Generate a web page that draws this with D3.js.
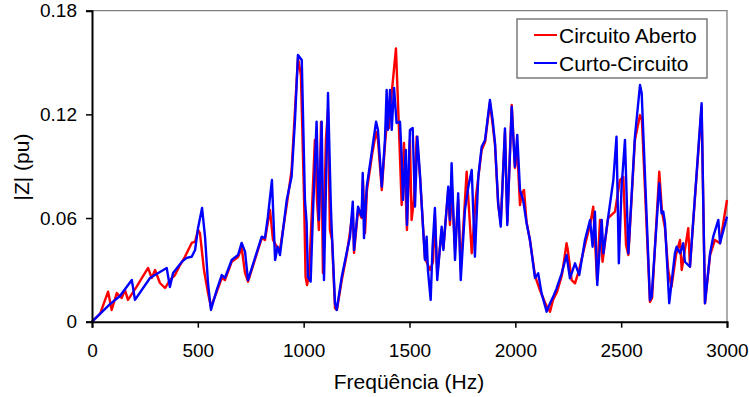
<!DOCTYPE html>
<html>
<head>
<meta charset="utf-8">
<script src="https://cdn.jsdelivr.net/npm/d3@7"></script>
<style>
  body { margin: 0; background: #fff; }
  text { font-family: "Liberation Sans", Arial, sans-serif; fill: #000; }
</style>
</head>
<body>
<div id="chart"></div>
<script>
// Circuito Aberto (red)
const abertoFreq = [0, 38, 76, 93, 117, 140, 156, 170, 211, 236, 265, 282, 298, 321, 345, 368, 392, 416, 439, 471, 487, 501, 510, 529, 548, 562, 589, 613, 628, 660, 690, 707, 723, 737, 802, 817, 841, 855, 873, 888, 920, 943, 959, 973, 987, 1002, 1009, 1016, 1025, 1035, 1053, 1063, 1072, 1082, 1091, 1105, 1115, 1124, 1134, 1148, 1157, 1180, 1203, 1219, 1232, 1238, 1257, 1274, 1280, 1290, 1299, 1323, 1342, 1351, 1369, 1384, 1394, 1403, 1416, 1436, 1450, 1463, 1474, 1488, 1502, 1510, 1521, 1534, 1549, 1573, 1587, 1597, 1611, 1620, 1631, 1652, 1660, 1683, 1691, 1701, 1715, 1730, 1742, 1762, 1770, 1794, 1814, 1841, 1857, 1880, 1893, 1904, 1919, 1931, 1951, 1962, 1983, 1998, 2009, 2022, 2031, 2041, 2053, 2069, 2093, 2116, 2145, 2164, 2178, 2197, 2220, 2242, 2248, 2266, 2282, 2301, 2329, 2353, 2368, 2386, 2400, 2412, 2438, 2471, 2494, 2510, 2523, 2534, 2565, 2589, 2598, 2636, 2646, 2680, 2693, 2707, 2722, 2738, 2759, 2778, 2786, 2817, 2825, 2880, 2896, 2920, 2943, 2967, 3000];
const abertoZ = [0, 0.0045, 0.0174, 0.0068, 0.0166, 0.0137, 0.0183, 0.0126, 0.0203, 0.0253, 0.0311, 0.0253, 0.0299, 0.0224, 0.0195, 0.0241, 0.0270, 0.0328, 0.0376, 0.0456, 0.0463, 0.0531, 0.0513, 0.0299, 0.0166, 0.0087, 0.0172, 0.0253, 0.0241, 0.0346, 0.0374, 0.0427, 0.0282, 0.0232, 0.0484, 0.0473, 0.0647, 0.0473, 0.0434, 0.0415, 0.0675, 0.0878, 0.1225, 0.1526, 0.1428, 0.0704, 0.0260, 0.0212, 0.0270, 0.0531, 0.1052, 0.0704, 0.0531, 0.1156, 0.0282, 0.1052, 0.1225, 0.0531, 0.0473, 0.0079, 0.0068, 0.0241, 0.0386, 0.0519, 0.0647, 0.0398, 0.0647, 0.0600, 0.0820, 0.0513, 0.0762, 0.0965, 0.1098, 0.1052, 0.0762, 0.1023, 0.1167, 0.1121, 0.1324, 0.1582, 0.1121, 0.0675, 0.1034, 0.0531, 0.1052, 0.0589, 0.0704, 0.1071, 0.0849, 0.0369, 0.0328, 0.0299, 0.0346, 0.0618, 0.0270, 0.0531, 0.0427, 0.0762, 0.0560, 0.0762, 0.0415, 0.0704, 0.0299, 0.0704, 0.0868, 0.0396, 0.0724, 0.0994, 0.1040, 0.1266, 0.1138, 0.1023, 0.0675, 0.0577, 0.1098, 0.0577, 0.1254, 0.0890, 0.0994, 0.0675, 0.0745, 0.0762, 0.0577, 0.0473, 0.0265, 0.0183, 0.0097, 0.0058, 0.0126, 0.0172, 0.0270, 0.0454, 0.0415, 0.0241, 0.0222, 0.0299, 0.0444, 0.0560, 0.0666, 0.0241, 0.0589, 0.0347, 0.0600, 0.0637, 0.0820, 0.0839, 0.0444, 0.0386, 0.1052, 0.1196, 0.1167, 0.0114, 0.0137, 0.0868, 0.0635, 0.0542, 0.0299, 0.0203, 0.0386, 0.0473, 0.0299, 0.0541, 0.0318, 0.1244, 0.0107, 0.0386, 0.0473, 0.0454, 0.0704];

// Curto-Circuito (blue)
const curtoFreq = [0, 85, 132, 188, 203, 274, 321, 353, 368, 383, 424, 447, 471, 487, 501, 520, 534, 548, 562, 589, 613, 628, 660, 690, 707, 723, 737, 802, 817, 831, 850, 865, 877, 888, 920, 943, 959, 973, 991, 1006, 1014, 1020, 1033, 1044, 1061, 1072, 1085, 1096, 1115, 1128, 1132, 1148, 1156, 1180, 1203, 1219, 1232, 1238, 1257, 1274, 1279, 1285, 1298, 1321, 1342, 1351, 1369, 1384, 1392, 1398, 1408, 1416, 1427, 1439, 1455, 1463, 1469, 1483, 1488, 1502, 1515, 1526, 1537, 1549, 1573, 1581, 1587, 1600, 1609, 1620, 1631, 1652, 1660, 1683, 1691, 1699, 1715, 1730, 1742, 1762, 1778, 1794, 1809, 1825, 1841, 1857, 1880, 1893, 1904, 1919, 1931, 1951, 1962, 1983, 1998, 2009, 2022, 2037, 2053, 2069, 2093, 2108, 2124, 2148, 2164, 2179, 2195, 2219, 2242, 2258, 2282, 2302, 2329, 2353, 2365, 2376, 2387, 2408, 2416, 2439, 2463, 2478, 2489, 2502, 2518, 2534, 2565, 2589, 2597, 2636, 2644, 2680, 2691, 2699, 2707, 2727, 2754, 2762, 2778, 2793, 2801, 2825, 2880, 2896, 2920, 2935, 2959, 2967, 3000];
const curtoZ = [0, 0.0102, 0.0149, 0.0241, 0.0126, 0.0253, 0.0288, 0.0311, 0.0201, 0.0282, 0.0346, 0.0369, 0.0376, 0.0415, 0.0542, 0.0658, 0.0492, 0.0224, 0.0068, 0.0183, 0.0270, 0.0253, 0.0357, 0.0386, 0.0456, 0.0405, 0.0241, 0.0492, 0.0484, 0.0608, 0.0820, 0.0357, 0.0434, 0.0386, 0.0704, 0.0839, 0.1167, 0.1544, 0.1515, 0.0704, 0.0571, 0.0260, 0.0232, 0.0629, 0.1158, 0.0589, 0.1158, 0.0241, 0.1324, 0.0687, 0.0550, 0.0108, 0.0068, 0.0260, 0.0398, 0.0492, 0.0695, 0.0415, 0.0666, 0.0608, 0.0861, 0.0484, 0.0781, 0.0976, 0.1158, 0.1110, 0.0781, 0.1052, 0.1341, 0.1110, 0.1341, 0.1110, 0.1353, 0.1150, 0.1158, 0.0955, 0.0704, 0.0994, 0.0560, 0.1110, 0.1121, 0.0666, 0.1071, 0.0861, 0.0357, 0.0492, 0.0299, 0.0126, 0.0434, 0.0658, 0.0241, 0.0550, 0.0415, 0.0781, 0.0589, 0.0917, 0.0357, 0.0743, 0.0241, 0.0647, 0.0781, 0.0878, 0.0376, 0.0839, 0.1013, 0.1052, 0.1283, 0.1167, 0.1033, 0.0685, 0.0550, 0.1119, 0.0560, 0.1244, 0.0897, 0.1081, 0.0762, 0.0704, 0.0571, 0.0473, 0.0253, 0.0280, 0.0164, 0.0058, 0.0107, 0.0145, 0.0193, 0.0280, 0.0386, 0.0251, 0.0338, 0.0270, 0.0473, 0.0589, 0.0434, 0.0637, 0.0212, 0.0589, 0.0396, 0.0608, 0.0820, 0.1071, 0.0338, 0.0781, 0.1052, 0.0396, 0.1071, 0.1370, 0.1322, 0.0126, 0.0145, 0.0801, 0.0627, 0.0637, 0.0570, 0.0107, 0.0396, 0.0434, 0.0396, 0.0454, 0.0347, 0.0318, 0.1264, 0.0107, 0.0396, 0.0492, 0.0589, 0.0454, 0.0608];

const xTicks = [0, 500, 1000, 1500, 2000, 2500, 3000];
const yTicks = [0, 0.06, 0.12, 0.18];
const yTickLabels = ["0", "0.06", "0.12", "0.18"];
const seriesNames = ["Circuito Aberto", "Curto-Circuito"];
const seriesColors = ["#ff0000", "#0000ff"];

const W = 749, H = 397;
const plot = { left: 92, right: 727, top: 10.7, bottom: 321.7 };

const svg = d3.select("#chart").append("svg")
  .attr("width", W)
  .attr("height", H);

const x = d3.scaleLinear().domain([0, 3000]).range([plot.left, plot.right]);
const y = d3.scaleLinear().domain([0, 0.18]).range([plot.bottom, plot.top]);

// plot frame (top + right)
svg.append("path")
  .attr("d", `M${plot.left},${plot.top}H${plot.right}V${plot.bottom}`)
  .attr("fill", "none")
  .attr("stroke", "#808080")
  .attr("stroke-width", 1.3);

const line = d3.line()
  .x(d => x(d[0]))
  .y(d => y(d[1]));

const series = [
  d3.zip(abertoFreq, abertoZ),
  d3.zip(curtoFreq, curtoZ)
];

svg.selectAll("path.series")
  .data(series)
  .join("path")
  .attr("class", "series")
  .attr("d", line)
  .attr("fill", "none")
  .attr("stroke", (d, i) => seriesColors[i])
  .attr("stroke-width", 2.4)
  .attr("stroke-linejoin", "round");

// axes
const xAxis = svg.append("g")
  .attr("transform", `translate(0,${plot.bottom})`)
  .call(d3.axisBottom(x).tickValues(xTicks).tickSize(6).tickPadding(16).tickFormat(d3.format("d")));

const yAxis = svg.append("g")
  .attr("transform", `translate(${plot.left},0)`)
  .call(d3.axisLeft(y).tickValues(yTicks).tickSize(6).tickPadding(9)
    .tickFormat((d, i) => yTickLabels[i]));

[xAxis, yAxis].forEach(g => {
  g.select(".domain").attr("stroke", "#000").attr("stroke-width", 2);
  g.selectAll(".tick line").attr("stroke", "#000").attr("stroke-width", 1.5);
  g.selectAll(".tick text")
    .style("font-family", '"Liberation Sans", Arial, sans-serif')
    .style("font-size", "19px")
    .attr("fill", "#000");
});

// axis titles
svg.append("text")
  .attr("x", 409)
  .attr("y", 389)
  .attr("text-anchor", "middle")
  .style("font-size", "21px")
  .text("Freqüência (Hz)");

svg.append("text")
  .attr("transform", "translate(29,167) rotate(-90)")
  .attr("text-anchor", "middle")
  .style("font-size", "21px")
  .text("|Z| (pu)");

// legend
const legend = svg.append("g");
legend.append("rect")
  .attr("x", 517).attr("y", 19)
  .attr("width", 190).attr("height", 59)
  .attr("fill", "#fff")
  .attr("stroke", "#666")
  .attr("stroke-width", 1.3);

seriesNames.forEach((name, i) => {
  const ly = 35 + i * 28;
  legend.append("line")
    .attr("x1", 534).attr("x2", 557)
    .attr("y1", ly).attr("y2", ly)
    .attr("stroke", seriesColors[i])
    .attr("stroke-width", 2);
  legend.append("text")
    .attr("x", 559)
    .attr("y", ly + 8)
    .style("font-size", "21px")
    .text(name);
});
</script>
</body>
</html>
